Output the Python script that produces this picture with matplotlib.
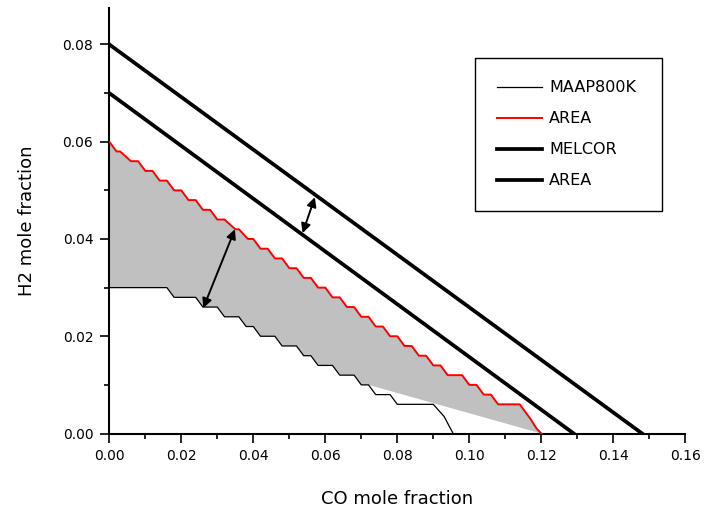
import numpy as np
import matplotlib
matplotlib.use("Agg")
import matplotlib.pyplot as plt
from matplotlib.ticker import MultipleLocator

# stepped limit from the AREA code (red)
red_x = [0.000, 0.002, 0.003, 0.006, 0.008, 0.010, 0.012, 0.014, 0.016, 0.018,
         0.020, 0.022, 0.024, 0.026, 0.028, 0.030, 0.032, 0.035, 0.036, 0.0385,
         0.040, 0.042, 0.044, 0.046, 0.048, 0.050, 0.052, 0.054, 0.056, 0.058,
         0.060, 0.062, 0.064, 0.066, 0.068, 0.070, 0.072, 0.074, 0.076, 0.078,
         0.080, 0.082, 0.084, 0.086, 0.088, 0.090, 0.092, 0.094, 0.098, 0.100,
         0.102, 0.104, 0.106, 0.108, 0.114, 0.117, 0.1187, 0.120]
red_y = [0.060, 0.058, 0.058, 0.056, 0.056, 0.054, 0.054, 0.052, 0.052, 0.050,
         0.050, 0.048, 0.048, 0.046, 0.046, 0.044, 0.044, 0.042, 0.042, 0.040,
         0.040, 0.038, 0.038, 0.036, 0.036, 0.034, 0.034, 0.032, 0.032, 0.030,
         0.030, 0.028, 0.028, 0.026, 0.026, 0.024, 0.024, 0.022, 0.022, 0.020,
         0.020, 0.018, 0.018, 0.016, 0.016, 0.014, 0.014, 0.012, 0.012, 0.010,
         0.010, 0.008, 0.008, 0.006, 0.006, 0.003, 0.001, 0.000]

# MAAP 800K stepped limit (thin black)
maap_x = [0.000, 0.016, 0.018, 0.024, 0.026, 0.030, 0.032, 0.036, 0.038, 0.040,
          0.042, 0.046, 0.048, 0.052, 0.054, 0.056, 0.058, 0.062, 0.064, 0.068,
          0.070, 0.072, 0.074, 0.078, 0.080, 0.090, 0.093, 0.0955]
maap_y = [0.030, 0.030, 0.028, 0.028, 0.026, 0.026, 0.024, 0.024, 0.022, 0.022,
          0.020, 0.020, 0.018, 0.018, 0.016, 0.016, 0.014, 0.014, 0.012, 0.012,
          0.010, 0.010, 0.008, 0.008, 0.006, 0.006, 0.0035, 0.000]

# straight lower edge of the grey band after it leaves the MAAP curve
edge_x = [0.072, 0.120]
edge_y = [0.010, 0.000]

# straight limits (thick black)
melcor_x = [0.000, 0.148]
melcor_y = [0.080, 0.000]
area2_x = [0.000, 0.129]
area2_y = [0.070, 0.000]

# double arrows (tail, head)
arrow_a = [(0.0537, 0.0412), (0.0571, 0.0486)]
arrow_b = [(0.0261, 0.0258), (0.0349, 0.0420)]

plt.rcParams['font.family'] = ['DejaVu Sans']

fig = plt.figure(figsize=(7.06, 5.12), dpi=100)
ax = fig.add_axes([0.1548, 0.1533, 0.8159, 0.8311])

# grey band: red curve forward, then lower edge back
n_keep = maap_x.index(edge_x[0]) + 1
poly_x = red_x + edge_x[::-1][:-1] + maap_x[:n_keep][::-1]
poly_y = red_y + edge_y[::-1][:-1] + maap_y[:n_keep][::-1]
ax.fill(poly_x, poly_y, color='#c0c0c0', lw=0, zorder=1)

ax.plot(maap_x, maap_y, color='k', lw=0.9, label='MAAP800K', zorder=3)
ax.plot(red_x, red_y, color='#ff0000', lw=1.4, label='AREA', zorder=3)
ax.plot(melcor_x, melcor_y, color='k', lw=2.7, label='MELCOR', zorder=4)
ax.plot(area2_x, area2_y, color='k', lw=2.7, label='AREA', zorder=4)

for tail, head in (arrow_a, arrow_b):
    ax.annotate('', xy=head, xytext=tail,
                arrowprops=dict(arrowstyle='<|-|>', color='k', lw=1.4,
                                mutation_scale=14, shrinkA=0, shrinkB=0),
                zorder=5)

ax.set_xlim(0, 0.16)
ax.set_ylim(0, 0.0875)
ax.xaxis.set_major_locator(MultipleLocator(0.02))
ax.xaxis.set_minor_locator(MultipleLocator(0.01))
ax.yaxis.set_major_locator(MultipleLocator(0.02))
ax.yaxis.set_minor_locator(MultipleLocator(0.01))
ax.xaxis.set_major_formatter(lambda v, p: f"{v:.2f}")
ax.yaxis.set_major_formatter(lambda v, p: f"{v:.2f}")

for s in ('top', 'right'):
    ax.spines[s].set_visible(False)
for s in ('left', 'bottom'):
    ax.spines[s].set_linewidth(1.5)
ax.tick_params(which='major', direction='out', length=6.5, width=1.2,
               labelsize=10, pad=5)
ax.tick_params(which='minor', direction='out', length=3.6, width=1.2)

ax.set_xlabel('CO mole fraction', fontsize=13, labelpad=19)
ax.set_ylabel('H2 mole fraction', fontsize=13, labelpad=19)

leg = ax.legend(loc='upper left', bbox_to_anchor=(0.635, 0.5276, 0.3245, 0.355),
                mode='expand', fontsize=11.5, frameon=True, fancybox=False,
                framealpha=1, edgecolor='k', borderpad=1.4, labelspacing=1.0,
                handlelength=2.8, handletextpad=0.45, borderaxespad=0)
leg.get_frame().set_linewidth(1.0)

fig.savefig('out.png', dpi=100)
